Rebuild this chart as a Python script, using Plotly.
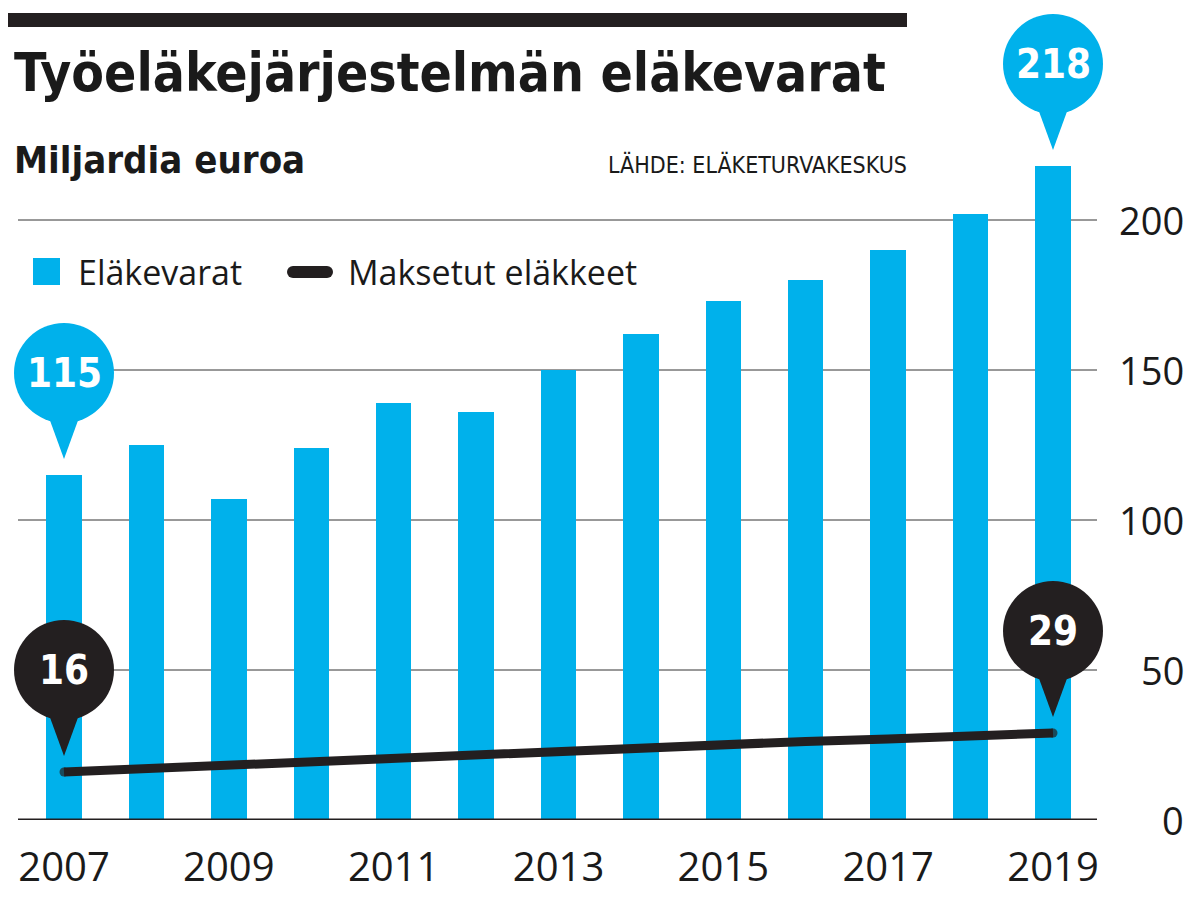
import plotly.graph_objects as go

# ---- data ----
years = [2007, 2008, 2009, 2010, 2011, 2012, 2013, 2014, 2015, 2016, 2017, 2018, 2019]
elakevarat = [115, 125, 107, 124, 139, 136, 150, 162, 173, 180, 190, 202, 218]
maksetut = [16, 17.2, 18.4, 19.6, 20.8, 22.0, 23.3, 24.3, 25.3, 26.2, 27.0, 27.9, 29]
x_tick_years = [2007, 2009, 2011, 2013, 2015, 2017, 2019]
x_tick_labels = ["2007", "2009", "2011", "2013", "2015", "2017", "2019"]
y_ticks = [0, 50, 100, 150, 200]
y_tick_labels = ["0", "50", "100", "150", "200"]
callouts = [  # (series, year index, label)
    ("bar", 0, "115"),
    ("bar", 12, "218"),
    ("line", 0, "16"),
    ("line", 12, "29"),
]

title = "Työeläkejärjestelmän eläkevarat"
subtitle = "Miljardia euroa"
source = "LÄHDE: ELÄKETURVAKESKUS"
legend_bar = "Eläkevarat"
legend_line = "Maksetut eläkkeet"

BLUE = "#00b1eb"
BLACK = "#231f20"
COND = "DejaVu Sans Condensed, Roboto Condensed, Roboto, sans-serif"
SANS = "Open Sans"

# page has an 8px body margin; figure is sized to fit exactly
OFF = 8
W, H = 1184, 884
ML, MR, MT, MB = 0, 0, 2, 72
PW, PH = W - ML - MR, H - MT - MB
SPACING = (1053 - 64) / 12.0  # pixels per year
X0 = 2007 - (64 - OFF - ML) / SPACING
X1 = X0 + PW / SPACING


def px(xp):  # page x pixel -> paper
    return (xp - OFF - ML) / PW


def py(yp):  # page y pixel -> paper
    return (H - MB - (yp - OFF)) / PH


fig = go.Figure()
fig.add_trace(go.Bar(x=years, y=elakevarat, marker=dict(color=BLUE, line=dict(width=0)),
                     width=0.43, hoverinfo="skip"))
end_sizes = [9 if k in (0, len(years) - 1) else 0 for k in range(len(years))]
fig.add_trace(go.Scatter(x=years, y=maksetut, mode="lines+markers",
                         line=dict(color=BLACK, width=9),
                         marker=dict(color=BLACK, size=end_sizes, line=dict(width=0)),
                         hoverinfo="skip"))

shapes = []
annotations = []

# gridlines and baseline
for v in y_ticks:
    if v == 0:
        continue
    shapes.append(dict(type="line", xref="paper", yref="y", x0=px(18), x1=px(1097), y0=v, y1=v,
                       line=dict(color="#333333", width=1), layer="below"))
shapes.append(dict(type="line", xref="paper", yref="y", x0=px(18), x1=px(1097), y0=0, y1=0,
                   line=dict(color=BLACK, width=3), layer="above"))

# callout bubbles
for series, i, label in callouts:
    xv = years[i]
    yv = elakevarat[i] if series == "bar" else maksetut[i]
    col = BLUE if series == "bar" else BLACK
    shapes.append(dict(type="circle", xref="x", yref="y", xsizemode="pixel", ysizemode="pixel",
                       xanchor=xv, yanchor=yv, x0=-50, x1=50, y0=52, y1=152,
                       fillcolor=col, line=dict(width=0), layer="above"))
    shapes.append(dict(type="path", xref="x", yref="y", xsizemode="pixel", ysizemode="pixel",
                       xanchor=xv, yanchor=yv, path="M -16,60 L 16,60 L 0,16 Z",
                       fillcolor=col, line=dict(width=0), layer="above"))
    annotations.append(dict(x=xv, y=yv, xref="x", yref="y", yshift=102, showarrow=False,
                            text=label, xanchor="center", yanchor="middle",
                            font=dict(family=COND, size=40, color="white", weight="bold")))

# top black rule
shapes.append(dict(type="rect", xref="paper", yref="paper", x0=px(8), x1=px(907),
                   y0=py(27), y1=py(13), fillcolor=BLACK, line=dict(width=0)))

# legend
shapes.append(dict(type="rect", xref="paper", yref="paper", x0=px(33), x1=px(60),
                   y0=py(285), y1=py(258), fillcolor=BLUE, line=dict(width=0)))
shapes.append(dict(type="line", xref="paper", yref="paper", x0=px(293), x1=px(327),
                   y0=py(272), y1=py(272), line=dict(color=BLACK, width=12)))
for cx in (293, 327):
    shapes.append(dict(type="circle", xref="paper", yref="paper", x0=px(cx - 6), x1=px(cx + 6),
                       y0=py(278), y1=py(266), fillcolor=BLACK, line=dict(width=0)))
annotations.append(dict(x=px(76), y=py(272), xref="paper", yref="paper", text=legend_bar,
                        showarrow=False, xanchor="left", yanchor="middle",
                        font=dict(family=SANS, size=34, color="#1a1a1a")))
annotations.append(dict(x=px(346), y=py(272), xref="paper", yref="paper", text=legend_line,
                        showarrow=False, xanchor="left", yanchor="middle",
                        font=dict(family=SANS, size=34, color="#1a1a1a")))

# titles
annotations.append(dict(x=px(12), y=py(73), xref="paper", yref="paper", text=title,
                        showarrow=False, xanchor="left", yanchor="middle",
                        font=dict(family=COND, size=53, color="#1a1a1a", weight="bold")))
annotations.append(dict(x=px(12), y=py(160), xref="paper", yref="paper", text=subtitle,
                        showarrow=False, xanchor="left", yanchor="middle",
                        font=dict(family=COND, size=38, color="#1a1a1a", weight="bold")))
annotations.append(dict(x=px(909), y=py(165), xref="paper", yref="paper", text=source,
                        showarrow=False, xanchor="right", yanchor="middle",
                        font=dict(family=COND, size=23, color="#1a1a1a")))

# right-aligned y tick labels
for v, t in zip(y_ticks, y_tick_labels):
    annotations.append(dict(x=px(1186), y=v, xref="paper", yref="y", text=t, showarrow=False,
                            xanchor="right", yanchor="middle",
                            font=dict(family=SANS, size=38, color="#1a1a1a")))

fig.update_layout(
    width=W, height=H,
    margin=dict(l=ML, r=MR, t=MT, b=MB, pad=0),
    paper_bgcolor="white", plot_bgcolor="white",
    showlegend=False,
    bargap=0,
    shapes=shapes,
    annotations=annotations,
    xaxis=dict(range=[X0, X1], tickvals=x_tick_years, ticktext=x_tick_labels,
               showgrid=False, zeroline=False, showline=False,
               ticks="", tickfont=dict(family=SANS, size=40, color="#1a1a1a"),
               ticklabelstandoff=20),
    yaxis=dict(range=[0, 270], showticklabels=False, showgrid=False, zeroline=False, ticks=""),
)

fig.write_html("out.html")
